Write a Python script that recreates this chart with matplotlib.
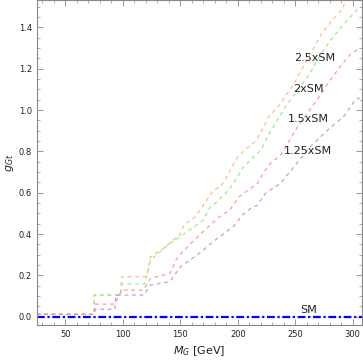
import numpy as np
import matplotlib
matplotlib.use('Agg')
import matplotlib.pyplot as plt
from matplotlib.ticker import MultipleLocator

# curves (M_G in GeV, g_Gt)
x_25 = [25, 75, 75, 98, 99, 121, 124, 135, 150, 153, 163, 167, 175, 179, 185, 189,
        195, 201, 208, 215, 221, 227, 237, 249, 257, 265, 273, 282, 291, 294]
y_25 = [0.012, 0.012, 0.105, 0.105, 0.194, 0.194, 0.29, 0.33, 0.40, 0.444, 0.484, 0.516,
        0.58, 0.613, 0.629, 0.661, 0.726, 0.782, 0.815, 0.847, 0.903, 0.968, 1.03, 1.13,
        1.21, 1.29, 1.37, 1.435, 1.49, 1.53]

x_20 = [25, 75, 75, 98, 99, 119, 124, 141, 150, 160, 170, 176, 182, 186, 192, 199, 205,
        214, 220, 225, 231, 243, 254, 263, 272, 281, 289, 301, 306]
y_20 = [0.012, 0.012, 0.105, 0.105, 0.158, 0.158, 0.274, 0.355, 0.387, 0.428, 0.468, 0.532,
        0.556, 0.58, 0.613, 0.67, 0.726, 0.774, 0.806, 0.863, 0.92, 1.03, 1.11, 1.18, 1.27,
        1.34, 1.395, 1.47, 1.50]

x_15 = [25, 75, 76, 93, 99, 118, 124, 141, 147, 160, 176, 186, 193, 201, 211, 217, 224,
        228, 237, 241, 252, 269, 281, 289, 298, 306]
y_15 = [0.012, 0.012, 0.061, 0.061, 0.129, 0.129, 0.186, 0.21, 0.283, 0.36, 0.444, 0.492,
        0.516, 0.58, 0.621, 0.645, 0.71, 0.74, 0.78, 0.815, 0.92, 1.05, 1.15, 1.21, 1.27, 1.30]

x_125 = [25, 75, 76, 93, 94, 118, 124, 141, 150, 165, 180, 196, 204, 211, 217, 224, 237,
         249, 263, 275, 283, 292, 302, 306]
y_125 = [0.012, 0.012, 0.036, 0.036, 0.105, 0.105, 0.153, 0.17, 0.242, 0.30, 0.37, 0.436,
         0.492, 0.524, 0.54, 0.597, 0.645, 0.726, 0.822, 0.887, 0.927, 0.968, 1.048, 1.06]

sm_x = [25, 308]
sm_y = [0.0, 0.0]

labels = ['2.5xSM', '2xSM', '1.5xSM', '1.25xSM', 'SM']
label_pos = [(267, 1.25), (261, 1.10), (261, 0.955), (261, 0.80), (262, 0.032)]

fig = plt.figure(figsize=(3.63, 3.61), dpi=100)
ax = fig.add_axes([0.101, 0.0997, 0.896, 0.9003])

dash = (0, (3, 3))
ax.plot(x_25, y_25, color='#ffbb88', lw=0.9, ls=dash)
ax.plot(x_20, y_20, color='#99ee88', lw=0.9, ls=dash)
ax.plot(x_15, y_15, color='#ff9a9a', lw=0.9, ls=dash)
ax.plot(x_125, y_125, color='#cc99dd', lw=0.9, ls=dash)
ax.plot(sm_x, sm_y, color='#0000ff', lw=1.6, ls=(0, (3.5, 1.2, 1, 1.2)))

for t, (lx, ly) in zip(labels, label_pos):
    ax.text(lx, ly, t, fontsize=8, ha='center', va='center', color='#222222')

ax.set_xlim(25, 308)
ax.set_ylim(-0.04, 1.533)
ax.xaxis.set_major_locator(MultipleLocator(50))
ax.xaxis.set_minor_locator(MultipleLocator(10))
ax.yaxis.set_major_locator(MultipleLocator(0.2))
ax.yaxis.set_minor_locator(MultipleLocator(0.05))
ax.tick_params(which='both', direction='in', top=True, right=True,
               color='#888888', labelsize=6, labelcolor='#222222')
ax.tick_params(which='major', length=4, width=0.6)
ax.tick_params(which='minor', length=2, width=0.5)
ax.tick_params(labeltop=False, labelright=False)
ax.yaxis.set_major_formatter(matplotlib.ticker.FormatStrFormatter('%.1f'))
for s in ax.spines.values():
    s.set_color('#888888')
    s.set_linewidth(0.8)

ax.set_xlabel(r'$M_G$ [GeV]', fontsize=8, color='#222222')
ax.set_ylabel(r'$g_{Gt}$', fontsize=8, color='#222222', labelpad=2)

fig.savefig('out.png', dpi=100)
